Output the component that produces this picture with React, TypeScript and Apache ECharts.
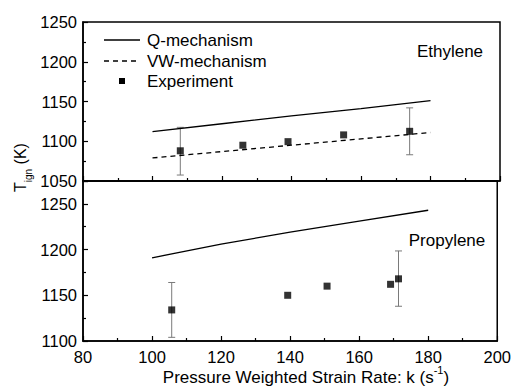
import React, { useEffect, useRef } from "react";
import * as echarts from "echarts";

// Ethylene panel
const ethX = [100, 120, 140, 160, 180];
const ethQ = [1112, 1122, 1132, 1141, 1151];
const ethVW = [1079, 1087, 1095, 1103, 1111];
const ethExpX = [108, 126, 139, 155, 174];
const ethExpY = [1088, 1095, 1099.5, 1108, 1112.5];
const ethErr = [
  [108, 1057.5, 1117.5],
  [174, 1083, 1142],
];

// Propylene panel
const proX = [100, 120, 140, 160, 180];
const proQ = [1191, 1206, 1219, 1231, 1243];
const proExpX = [105.7, 139.3, 150.7, 169.1, 171.4];
const proExpY = [1134, 1150, 1160, 1162, 1168];
const proErr = [
  [105.7, 1104, 1164],
  [171.4, 1138, 1198.5],
];

const legendNames = ["Q-mechanism", "VW-mechanism", "Experiment"];

const FONT = "Liberation Sans, Arial, sans-serif";

const pairs = (xs: number[], ys: number[]) => xs.map((x, i) => [x, ys[i]]);

// width of a text run, used to lay out sub/superscripts
const measure = (text: string, size: number) => {
  const ctx = document.createElement("canvas").getContext("2d");
  if (!ctx) return text.length * size * 0.55;
  ctx.font = `${size}px ${FONT}`;
  return ctx.measureText(text).width;
};

const errorBarItem = (params: any, api: any) => {
  const x = api.value(0);
  const top = api.coord([x, api.value(2)]);
  const bot = api.coord([x, api.value(1)]);
  const cap = 3.5;
  const style = { stroke: "#7a7a7a", lineWidth: 1 };
  return {
    type: "group",
    children: [
      { type: "line", shape: { x1: top[0], y1: top[1], x2: bot[0], y2: bot[1] }, style },
      { type: "line", shape: { x1: top[0] - cap, y1: top[1], x2: top[0] + cap, y2: top[1] }, style },
      { type: "line", shape: { x1: bot[0] - cap, y1: bot[1], x2: bot[0] + cap, y2: bot[1] }, style },
    ],
  };
};

// a row of text runs laid left to right, each with its own size and vertical offset
const textRun = (runs: { text: string; size: number; dy: number }[]) => {
  const widths = runs.map((r) => measure(r.text, r.size));
  const total = widths.reduce((a, b) => a + b, 0);
  let cursor = -total / 2;
  return runs.map((r, i) => {
    const el = {
      type: "text",
      x: cursor,
      y: r.dy,
      style: { text: r.text, fontSize: r.size, fontFamily: FONT, fill: "#000", align: "left", verticalAlign: "middle" },
    };
    cursor += widths[i];
    return el;
  });
};

export default function App() {
  const ref = useRef<HTMLDivElement>(null);

  useEffect(() => {
    if (!ref.current) return;
    const chart = echarts.init(ref.current, null, { renderer: "svg" });

    const axisLine = { show: true, lineStyle: { color: "#000", width: 1.5 } };
    const tickStyle = { color: "#000", width: 1.2 };
    const xBase = {
      type: "value",
      min: 80,
      max: 200,
      interval: 20,
      axisLine,
      axisTick: { show: true, inside: true, length: 5, lineStyle: tickStyle },
      minorTick: { show: true, splitNumber: 2, length: 3, lineStyle: tickStyle },
      splitLine: { show: false },
    };
    const yBase = {
      type: "value",
      interval: 50,
      axisLine,
      axisTick: { show: true, inside: true, length: 5, lineStyle: tickStyle },
      minorTick: { show: true, splitNumber: 2, length: 3, lineStyle: tickStyle },
      splitLine: { show: false },
    };
    const yLabel = (hideAbove: number) => ({
      color: "#000",
      fontSize: 16.5,
      fontFamily: FONT,
      margin: 6,
      formatter: (v: number) => (v > hideAbove ? "" : String(v)),
    });

    const legendY = [40, 61, 81];
    const legendGraphics: any[] = [
      {
        type: "line",
        shape: { x1: 104, y1: legendY[0], x2: 140, y2: legendY[0] },
        style: { stroke: "#000", lineWidth: 1.3 },
      },
      {
        type: "line",
        shape: { x1: 104, y1: legendY[1], x2: 140, y2: legendY[1] },
        style: { stroke: "#000", lineWidth: 1.3, lineDash: [5, 4] },
      },
      {
        type: "rect",
        shape: { x: 119, y: legendY[2] - 3, width: 6, height: 6 },
        style: { fill: "#000" },
      },
      ...legendNames.map((name, i) => ({
        type: "text",
        x: 147,
        y: legendY[i],
        style: { text: name, fontSize: 17, fontFamily: FONT, fill: "#000", verticalAlign: "middle" },
      })),
    ];

    chart.setOption({
      animation: false,
      backgroundColor: "#fff",
      grid: [
        { left: 83, top: 22, width: 417, height: 159, show: true, borderColor: "#000", borderWidth: 1.5, backgroundColor: "transparent" },
        { left: 83, top: 181, width: 417, height: 160, show: true, borderColor: "#000", borderWidth: 1.5, backgroundColor: "transparent" },
      ],
      xAxis: [
        { ...xBase, gridIndex: 0, axisLabel: { show: false } },
        {
          ...xBase,
          gridIndex: 1,
          axisLabel: { show: true, color: "#000", fontSize: 16.5, fontFamily: FONT, margin: 7 },
        },
      ],
      yAxis: [
        { ...yBase, gridIndex: 0, min: 1050, max: 1250, axisLabel: yLabel(1250) },
        { ...yBase, gridIndex: 1, min: 1100, max: 1275, axisLabel: yLabel(1250) },
      ],
      graphic: [
        ...legendGraphics,
        {
          type: "text",
          x: 450,
          y: 51,
          style: { text: "Ethylene", fontSize: 17, fontFamily: FONT, fill: "#000", align: "center", verticalAlign: "middle" },
        },
        {
          type: "text",
          x: 447,
          y: 240,
          style: { text: "Propylene", fontSize: 17, fontFamily: FONT, fill: "#000", align: "center", verticalAlign: "middle" },
        },
        {
          type: "group",
          x: 306,
          y: 377,
          children: textRun([
            { text: "Pressure Weighted Strain Rate: k (s", size: 17, dy: 0 },
            { text: "-1", size: 11, dy: -7 },
            { text: ")", size: 17, dy: 0 },
          ]),
        },
        {
          type: "group",
          x: 20.5,
          y: 167.5,
          rotation: Math.PI / 2,
          children: textRun([
            { text: "T", size: 16, dy: 0 },
            { text: "ign", size: 10, dy: 8 },
            { text: " (K)", size: 16, dy: 0 },
          ]),
        },
      ],
      series: [
        {
          name: legendNames[0],
          type: "line",
          xAxisIndex: 0,
          yAxisIndex: 0,
          data: pairs(ethX, ethQ),
          showSymbol: false,
          symbol: "none",
          lineStyle: { color: "#000", width: 1.3 },
          itemStyle: { color: "#000" },
        },
        {
          name: legendNames[1],
          type: "line",
          xAxisIndex: 0,
          yAxisIndex: 0,
          data: pairs(ethX, ethVW),
          showSymbol: false,
          symbol: "none",
          lineStyle: { color: "#000", width: 1.3, type: [5, 4] },
          itemStyle: { color: "#000" },
        },
        {
          name: "Ethylene error",
          type: "custom",
          xAxisIndex: 0,
          yAxisIndex: 0,
          data: ethErr,
          encode: { x: 0, y: [1, 2] },
          renderItem: errorBarItem,
          z: 1,
        },
        {
          name: legendNames[2],
          type: "scatter",
          xAxisIndex: 0,
          yAxisIndex: 0,
          data: pairs(ethExpX, ethExpY),
          symbol: "rect",
          symbolSize: 7,
          itemStyle: { color: "#000" },
          z: 3,
        },
        {
          name: legendNames[0],
          type: "line",
          xAxisIndex: 1,
          yAxisIndex: 1,
          data: pairs(proX, proQ),
          showSymbol: false,
          symbol: "none",
          lineStyle: { color: "#000", width: 1.3 },
          itemStyle: { color: "#000" },
        },
        {
          name: "Propylene error",
          type: "custom",
          xAxisIndex: 1,
          yAxisIndex: 1,
          data: proErr,
          encode: { x: 0, y: [1, 2] },
          renderItem: errorBarItem,
          z: 1,
        },
        {
          name: legendNames[2],
          type: "scatter",
          xAxisIndex: 1,
          yAxisIndex: 1,
          data: pairs(proExpX, proExpY),
          symbol: "rect",
          symbolSize: 7,
          itemStyle: { color: "#000" },
          z: 3,
        },
      ],
    });

    return () => chart.dispose();
  }, []);

  return <div ref={ref} style={{ width: 514, height: 388, position: "absolute", left: 0, top: 0 }} />;
}
